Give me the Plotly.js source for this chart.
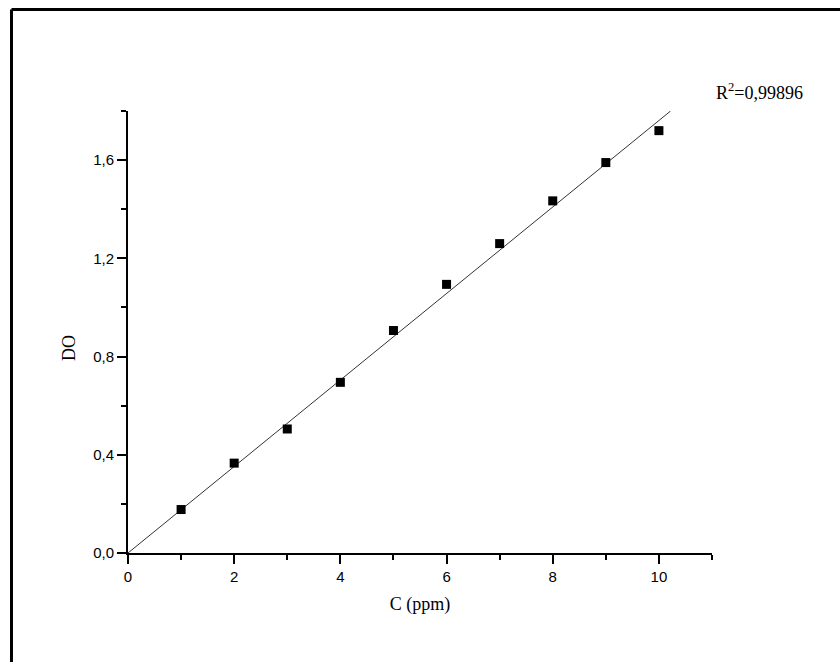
<!DOCTYPE html>
<html>
<head>
<meta charset="utf-8">
<script src="https://cdn.plot.ly/plotly-3.0.1.min.js"></script>
<style>
  html, body { margin: 0; padding: 0; background: #fff; }
  #chart { width: 840px; height: 662px; }
</style>
</head>
<body>
<div id="chart"></div>
<script>
// Measured data (C in ppm, DO absorbance)
const concentration = [1, 2, 3, 4, 5, 6, 7, 8, 9, 10];
const absorbance = [0.177, 0.366, 0.505, 0.695, 0.906, 1.094, 1.26, 1.434, 1.59, 1.72];
// Linear fit line end points
const fitX = [0, 10.22];
const fitY = [0, 1.8];
const r2Text = 'R<sup>2</sup>=0,99896';
const xTitle = 'C (ppm)';
const yTitle = 'DO';

const serif = 'Liberation Serif, Times New Roman, serif';
const sans = 'Liberation Sans, Arial, sans-serif';

const traces = [
  {
    x: fitX, y: fitY, type: 'scatter', mode: 'lines',
    line: { color: '#333333', width: 1 },
    hoverinfo: 'skip', showlegend: false, cliponaxis: false
  },
  {
    x: concentration, y: absorbance, type: 'scatter', mode: 'markers',
    marker: { symbol: 'square', size: 9, color: '#000000' },
    showlegend: false, cliponaxis: false
  }
];

const axisCommon = {
  showgrid: false, zeroline: false,
  showline: true, linecolor: '#000', linewidth: 2,
  ticks: 'outside', ticklen: 9, tickwidth: 2, tickcolor: '#000',
  tickfont: { family: sans, size: 15, color: '#000' },
  mirror: false
};

const layout = {
  width: 840, height: 662,
  margin: { l: 128, r: 128, t: 111, b: 109 },
  paper_bgcolor: '#fff', plot_bgcolor: '#fff',
  separators: ',.',
  showlegend: false,
  xaxis: Object.assign({}, axisCommon, {
    range: [0, 11], tick0: 0, dtick: 2, tickformat: 'd',
    minor: { ticks: 'outside', dtick: 1, ticklen: 5, tickwidth: 2, tickcolor: '#000' },
    title: { text: xTitle, font: { family: serif, size: 18, color: '#000' }, standoff: 13 }
  }),
  yaxis: Object.assign({}, axisCommon, {
    range: [0, 1.8], tick0: 0, dtick: 0.4, tickformat: '.1f',
    minor: { ticks: 'outside', dtick: 0.2, ticklen: 5, tickwidth: 2, tickcolor: '#000' }
  }),
  annotations: [
    {
      xref: 'paper', yref: 'paper', x: -0.101, y: 0.464,
      text: yTitle, textangle: -90, showarrow: false,
      xanchor: 'center', yanchor: 'middle',
      font: { family: serif, size: 18, color: '#000' }
    },
    {
      xref: 'paper', yref: 'paper', x: 1.003, y: 1.045,
      text: r2Text, showarrow: false,
      xanchor: 'left', yanchor: 'middle',
      font: { family: serif, size: 18, color: '#000' }
    }
  ],
  shapes: [
    { type: 'line', xref: 'paper', yref: 'paper', x0: -0.1995, x1: -0.1995, y0: -0.3, y1: 1.2296,
      line: { color: '#000', width: 3 } },
    { type: 'line', xref: 'paper', yref: 'paper', x0: -0.1995, x1: 1.3, y0: 1.2296, y1: 1.2296,
      line: { color: '#000', width: 3 } }
  ]
};

Plotly.newPlot('chart', traces, layout, { displayModeBar: false, staticPlot: true });
</script>
</body>
</html>
